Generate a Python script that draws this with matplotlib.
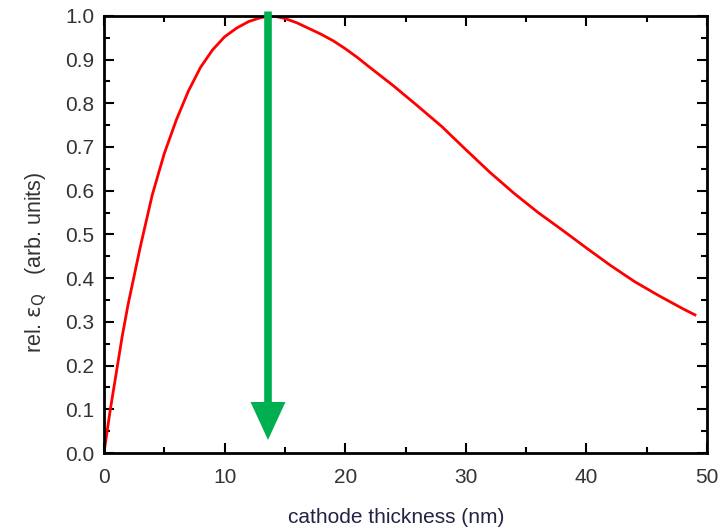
import matplotlib
matplotlib.use("Agg")
import matplotlib.pyplot as plt
from matplotlib.ticker import MultipleLocator

plt.rcParams['font.family'] = ['Liberation Sans', 'DejaVu Sans']

# values
thickness = [0, 0.5, 1, 1.5, 2, 3, 4, 5, 6, 7, 8, 9, 10, 11, 12, 13, 14, 15, 16, 17, 18,
             19, 20, 21, 22, 24, 26, 28, 30, 32, 34, 36, 38, 40, 42, 44, 46, 48, 49]
rel_eq = [0, 0.095, 0.18, 0.265, 0.34, 0.47, 0.59, 0.685, 0.762, 0.828, 0.882, 0.922,
          0.952, 0.972, 0.987, 0.996, 1.0, 0.994, 0.984, 0.971, 0.958, 0.943, 0.925,
          0.905, 0.883, 0.84, 0.794, 0.747, 0.694, 0.642, 0.594, 0.55, 0.51, 0.469,
          0.429, 0.392, 0.36, 0.33, 0.316]
optimum_x = 13.6
arrow_top = 1.01
arrow_bottom = 0.03

fig = plt.figure(figsize=(7.2, 5.28), dpi=100)
ax = fig.add_axes([0.1444, 0.142, 0.8376, 0.828])

ax.plot(thickness, rel_eq, color='red', lw=2)

ax.annotate('', xy=(optimum_x, arrow_bottom), xytext=(optimum_x, arrow_top),
            arrowprops=dict(arrowstyle='-|>,head_width=0.83,head_length=1.8',
                            color='#00b050', lw=5.5, shrinkA=0, shrinkB=0,
                            mutation_scale=10, capstyle='butt', joinstyle='miter'),
            annotation_clip=False)

ax.set_xlim(0, 50)
ax.set_ylim(0, 1.0)
ax.xaxis.set_major_locator(MultipleLocator(10))
ax.xaxis.set_minor_locator(MultipleLocator(5))
ax.yaxis.set_major_locator(MultipleLocator(0.1))
ax.yaxis.set_minor_locator(MultipleLocator(0.05))
ax.yaxis.set_major_formatter(plt.FormatStrFormatter('%.1f'))

ax.tick_params(which='both', direction='in', top=True, right=True,
               width=1.5, labelsize=15, labelcolor='#333333')
ax.tick_params(axis='x', pad=11)
ax.tick_params(axis='y', pad=7)
ax.tick_params(which='major', length=7)
ax.tick_params(which='minor', length=4)
for s in ax.spines.values():
    s.set_linewidth(2)

ax.set_xlabel('cathode thickness (nm)', fontsize=15, color='#222244')
ax.set_ylabel(r'rel. $\mathrm{\varepsilon_Q}$   (arb. units)', fontsize=15.5,
              color='#333333')
ax.xaxis.set_label_coords(0.484, -0.126)
ax.yaxis.set_label_coords(-0.091, 0.437)

fig.savefig('out.png', dpi=100)
